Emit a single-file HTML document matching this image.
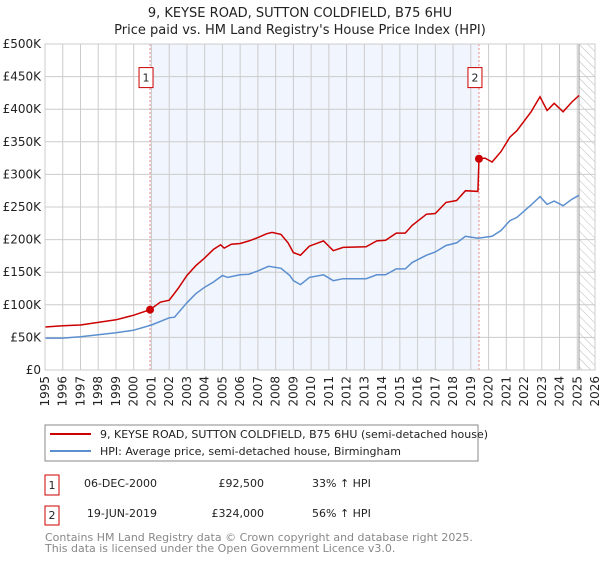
<!DOCTYPE html>
<html><head><meta charset="utf-8"><style>
body{margin:0;background:#fff;font-family:"DejaVu Sans","Liberation Sans",sans-serif;}
svg text{font-family:"DejaVu Sans","Liberation Sans",sans-serif;}
</style></head><body>
<svg id="c" width="600" height="560" xmlns="http://www.w3.org/2000/svg">
<defs><pattern id="hatch" width="6" height="6" patternUnits="userSpaceOnUse" patternTransform="rotate(-45)"><line x1="0" y1="0" x2="0" y2="6" stroke="#bbb" stroke-width="1"/></pattern></defs>
<text x="300" y="17" text-anchor="middle" font-size="13" fill="#222">9, KEYSE ROAD, SUTTON COLDFIELD, B75 6HU</text>
<text x="300" y="34" text-anchor="middle" font-size="13" fill="#222">Price paid vs. HM Land Registry's House Price Index (HPI)</text>
<g id="plot"></g>
<g>
<rect x="45" y="425" width="433" height="36" fill="#fff" stroke="#888"/>
<line x1="50" y1="434" x2="91" y2="434" stroke="#cc0000" stroke-width="2"/>
<text x="100" y="438" font-size="11" fill="#222">9, KEYSE ROAD, SUTTON COLDFIELD, B75 6HU (semi-detached house)</text>
<line x1="50" y1="451" x2="91" y2="451" stroke="#5b8fd0" stroke-width="2"/>
<text x="100" y="455" font-size="11" fill="#222">HPI: Average price, semi-detached house, Birmingham</text>
</g>
<g font-size="11" fill="#222">
<rect x="45" y="475" width="14" height="20" fill="#fff" stroke="#cc0000"/>
<text x="52" y="489" text-anchor="middle">1</text>
<text x="157" y="487" text-anchor="end">06-DEC-2000</text>
<text x="264" y="487" text-anchor="end">£92,500</text>
<text x="312" y="487">33% ↑ HPI</text>
<rect x="45" y="506" width="14" height="19" fill="#fff" stroke="#cc0000"/>
<text x="52" y="519" text-anchor="middle">2</text>
<text x="157" y="517" text-anchor="end">19-JUN-2019</text>
<text x="264" y="517" text-anchor="end">£324,000</text>
<text x="312" y="517">56% ↑ HPI</text>
</g>
<text x="45" y="541" font-size="11" fill="#888">Contains HM Land Registry data © Crown copyright and database right 2025.</text>
<text x="45" y="552" font-size="11" fill="#888">This data is licensed under the Open Government Licence v3.0.</text>
</svg>
<script>
const redYears=[1995,1996,1997,1998,1999,2000,2000.92,2001.5,2002,2002.5,2003,2003.5,2004,2004.5,2004.9,2005.1,2005.5,2006,2006.5,2007,2007.5,2007.8,2008.3,2008.7,2009,2009.4,2009.9,2010.7,2011.25,2011.8,2013.1,2013.7,2014.2,2014.8,2015.3,2015.7,2016.5,2017,2017.6,2018.2,2018.7,2019.4,2019.46,2019.8,2020.2,2020.7,2021.2,2021.6,2022.4,2022.9,2023.3,2023.7,2024.2,2024.7,2025.1];
const redValues=[66,68,69,73,77,84,92.5,104,107,125,145,160,172,185,192,187,193,194,198,203,209,211,208,195,180,176,190,198,183,188,189,198,199,210,210,222,239,240,257,260,275,274,324,325,319,335,357,367,396,419,398,409,396,411,421];
const blueYears=[1995,1996,1997,1998,1999,2000,2001,2002,2002.3,2003,2003.5,2004,2004.5,2005,2005.3,2006,2006.5,2007,2007.6,2008.3,2008.8,2009,2009.4,2009.9,2010.7,2011.25,2011.8,2013.1,2013.7,2014.2,2014.8,2015.3,2015.7,2016.5,2017,2017.6,2018.2,2018.7,2019.4,2020.2,2020.7,2021.2,2021.6,2022.4,2022.9,2023.3,2023.7,2024.2,2024.7,2025.1];
const blueValues=[49,49,51,54,57,61,69,80,81,103,117,127,135,145,142,146,147,152,159,156,145,137,131,142,146,137,140,140,146,146,155,155,165,176,181,191,195,205,202,205,214,229,234,253,266,254,259,252,262,268];
const sales=[[2000.92,92.5,"1"],[2019.46,324,"2"]];
const yTicks=[0,50,100,150,200,250,300,350,400,450,500];
const yLabels=["£0","£50K","£100K","£150K","£200K","£250K","£300K","£350K","£400K","£450K","£500K"];
const xTicks=[1995,1996,1997,1998,1999,2000,2001,2002,2003,2004,2005,2006,2007,2008,2009,2010,2011,2012,2013,2014,2015,2016,2017,2018,2019,2020,2021,2022,2023,2024,2025,2026];
const L=45,R=595,T=44,B=370,X0=1995,X1=2026,YMAX=500;
const xs=v=>L+(v-X0)/(X1-X0)*(R-L);
const ys=v=>B-v/YMAX*(B-T);
const NS="http://www.w3.org/2000/svg";
const g=document.getElementById('plot');
function mk(t,a,p){const e=document.createElementNS(NS,t);for(const k in a)e.setAttribute(k,a[k]);(p||g).appendChild(e);return e;}
let e;
e=mk('rect',{x:xs(2000.92),y:T,width:xs(2019.46)-xs(2000.92),height:B-T,fill:'#f1f5fd'});


e=mk('rect',{x:xs(2025.1),y:T,width:R-xs(2025.1),height:B-T,fill:'url(#hatch)'});


xTicks.forEach((t,i)=>{
 e=mk('line',{x1:xs(t),x2:xs(t),y1:T,y2:B,stroke:'#ccc','stroke-width':1});
 
 
 e=mk('text',{x:0,y:0,'font-size':12,fill:'#222','text-anchor':'end',transform:`translate(${xs(t)+4},${B+6}) rotate(-90)`});
 e.textContent=t;
 
 
});
yTicks.forEach((t,i)=>{
 e=mk('line',{x1:L,x2:R,y1:ys(t),y2:ys(t),stroke:'#ccc','stroke-width':1});
 
 
 e=mk('text',{x:L-4,y:ys(t)+4,'font-size':12,fill:'#222','text-anchor':'end'});
 e.textContent=yLabels[i];
 
 
});
e=mk('line',{x1:xs(2025.1),x2:xs(2025.1),y1:T,y2:B,stroke:'#999','stroke-width':1});


sales.forEach(s=>{
 e=mk('line',{x1:xs(s[0]),x2:xs(s[0]),y1:T,y2:B,stroke:'#e88','stroke-width':1,'stroke-dasharray':'2,2'});
 
 
});
function path(xa,va){return xa.map((x,i)=>(i?'L':'M')+xs(x).toFixed(1)+','+ys(va[i]).toFixed(1)).join('');}
e=mk('path',{d:path(blueYears,blueValues),fill:'none',stroke:'#5b8fd0','stroke-width':1.5});


e=mk('path',{d:path(redYears,redValues),fill:'none',stroke:'#cc0000','stroke-width':1.5});


sales.forEach(s=>{
 e=mk('circle',{cx:xs(s[0]),cy:ys(s[1]),r:4,fill:'#cc0000'});
 
 
 const bx=xs(s[0])-4;
 e=mk('rect',{x:bx-7,y:ys(450)-9,width:14,height:20,fill:'#fff',stroke:'#cc0000'});
 
 
 e=mk('text',{x:bx,y:ys(450)+5,'font-size':11,fill:'#222','text-anchor':'middle'});
 e.textContent=s[2];
 
 
});
e=mk('rect',{x:L,y:T,width:R-L,height:B-T,fill:'none',stroke:'#ccc'});


</script>
</body></html>
